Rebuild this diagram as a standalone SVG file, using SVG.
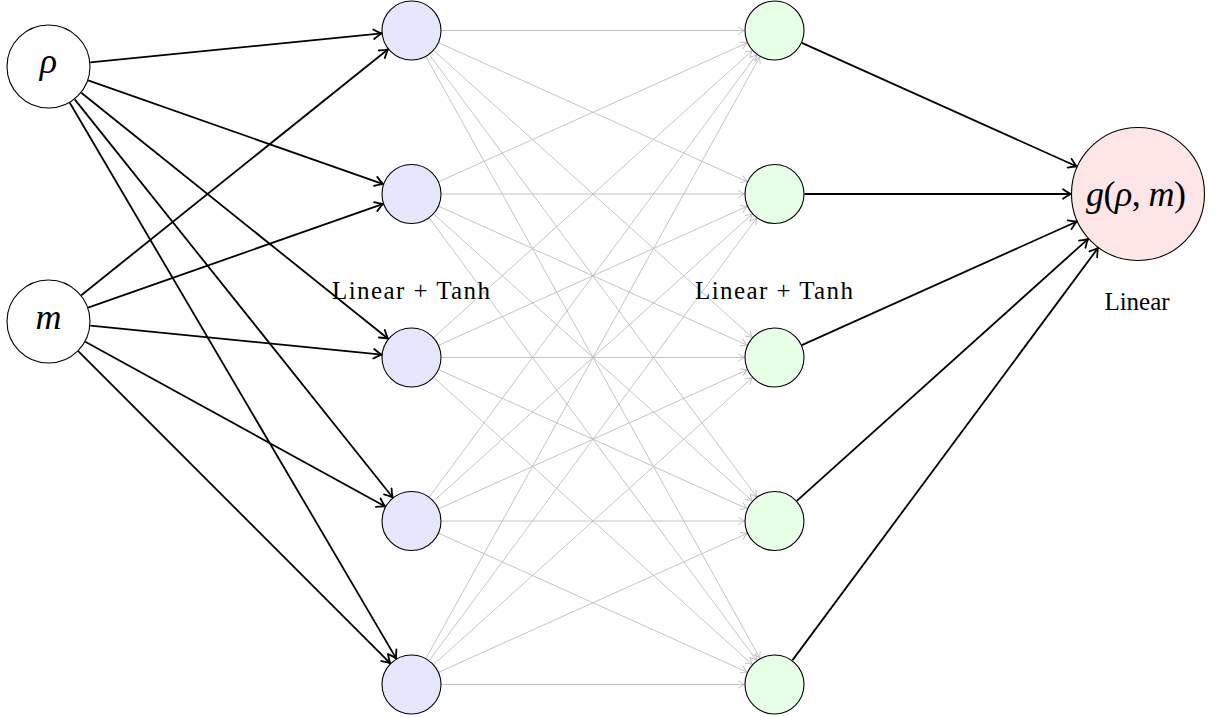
<svg xmlns="http://www.w3.org/2000/svg" width="1216" height="717" viewBox="0 0 1216 717">
<style>
.node{stroke:#000;stroke-width:1.1}
.in{fill:#fff}
.h1{fill:#e6e6ff}
.h2{fill:#e6ffe6}
.out{fill:#ffe6e6}
.blk{stroke:#000;stroke-width:1.8;fill:none;marker-end:url(#ab)}
.gry{stroke:#bdbdbd;stroke-width:0.9;fill:none;marker-end:url(#ag)}
.lbl{font-family:"Liberation Serif","DejaVu Serif",serif;font-size:25px;fill:#000;text-anchor:middle}
.math{font-family:"Liberation Serif","DejaVu Serif",serif;font-style:italic;fill:#000;text-anchor:middle}
.up{font-style:normal}
</style>
<defs>
<marker id="ab" markerUnits="userSpaceOnUse" markerWidth="20" markerHeight="20" refX="0" refY="0" orient="auto" overflow="visible">
<path d="M-8,-4.8 Q-3,-1.2 0,0 Q-3,1.2 -8,4.8" fill="none" stroke="#000" stroke-width="1.8" stroke-linecap="round"/>
</marker>
<marker id="ag" markerUnits="userSpaceOnUse" markerWidth="20" markerHeight="20" refX="0" refY="0" orient="auto" overflow="visible">
<path d="M-6,-3.6 Q-2.2,-0.9 0,0 Q-2.2,0.9 -6,3.6" fill="none" stroke="#bdbdbd" stroke-width="0.9" stroke-linecap="round"/>
</marker>
</defs>
<g id="connectors">
<path class="gry" d="M441.5,30.5L744.5,30.5"/>
<path class="gry" d="M438.85,42.82L747.15,181.68"/>
<path class="gry" d="M433.79,50.58L752.21,337.42"/>
<path class="gry" d="M429.35,54.61L756.65,496.89"/>
<path class="gry" d="M426.06,56.73L759.94,658.27"/>
<path class="gry" d="M438.85,181.68L747.15,42.82"/>
<path class="gry" d="M441.5,194L744.5,194"/>
<path class="gry" d="M438.85,206.32L747.15,345.18"/>
<path class="gry" d="M433.79,214.08L752.21,500.92"/>
<path class="gry" d="M429.35,218.11L756.65,660.39"/>
<path class="gry" d="M433.79,337.42L752.21,50.58"/>
<path class="gry" d="M438.85,345.18L747.15,206.32"/>
<path class="gry" d="M441.5,357.5L744.5,357.5"/>
<path class="gry" d="M438.85,369.82L747.15,508.68"/>
<path class="gry" d="M433.79,377.58L752.21,664.42"/>
<path class="gry" d="M429.35,496.89L756.65,54.61"/>
<path class="gry" d="M433.79,500.92L752.21,214.08"/>
<path class="gry" d="M438.85,508.68L747.15,369.82"/>
<path class="gry" d="M441.5,521L744.5,521"/>
<path class="gry" d="M438.85,533.32L747.15,672.18"/>
<path class="gry" d="M426.06,658.27L759.94,56.73"/>
<path class="gry" d="M429.35,660.39L756.65,218.11"/>
<path class="gry" d="M433.79,664.42L752.21,377.58"/>
<path class="gry" d="M438.85,672.18L747.15,533.32"/>
<path class="gry" d="M441.5,684.5L744.5,684.5"/>
<path class="blk" d="M90.3,62.36L381.65,33.46"/>
<path class="blk" d="M88.13,80.42L383.2,184.06"/>
<path class="blk" d="M81.27,92.77L388.09,338.74"/>
<path class="blk" d="M74.71,99.32L392.78,497.56"/>
<path class="blk" d="M69.77,102.71L396.31,658.63"/>
<path class="blk" d="M81.27,295.23L388.09,49.26"/>
<path class="blk" d="M88.13,307.58L383.2,203.94"/>
<path class="blk" d="M90.3,325.64L381.65,354.54"/>
<path class="blk" d="M85.31,341.73L385.21,506.55"/>
<path class="blk" d="M78.2,351.2L390.29,663.29"/>
<path class="blk" d="M801.86,42.81L1076.9,166.52"/>
<path class="blk" d="M804.5,194L1071,194"/>
<path class="blk" d="M801.86,345.19L1076.9,221.48"/>
<path class="blk" d="M796.8,500.94L1088.19,238.81"/>
<path class="blk" d="M792.36,660.4L1098.11,247.83"/>
</g>
<g id="in-rho"><circle class="node in" cx="48.5" cy="66.5" r="41.5"/><text class="math" x="48.5" y="73" font-size="36">ρ</text></g>
<g id="in-m"><circle class="node in" cx="48.5" cy="321.5" r="41.5"/><text class="math" x="48.5" y="329" font-size="36">m</text></g>
<g id="h1-1"><circle class="node h1" cx="411.5" cy="30.5" r="29.5"/></g>
<g id="h1-2"><circle class="node h1" cx="411.5" cy="194" r="29.5"/></g>
<g id="h1-3"><circle class="node h1" cx="411.5" cy="357.5" r="29.5"/></g>
<g id="h1-4"><circle class="node h1" cx="411.5" cy="521" r="29.5"/></g>
<g id="h1-5"><circle class="node h1" cx="411.5" cy="684.5" r="29.5"/></g>
<g id="h2-1"><circle class="node h2" cx="774.5" cy="30.5" r="29.5"/></g>
<g id="h2-2"><circle class="node h2" cx="774.5" cy="194" r="29.5"/></g>
<g id="h2-3"><circle class="node h2" cx="774.5" cy="357.5" r="29.5"/></g>
<g id="h2-4"><circle class="node h2" cx="774.5" cy="521" r="29.5"/></g>
<g id="h2-5"><circle class="node h2" cx="774.5" cy="684.5" r="29.5"/></g>
<g id="output"><circle class="node out" cx="1138" cy="194" r="66.5"/><text class="math" x="1136" y="206" font-size="36" textLength="100" lengthAdjust="spacing">g<tspan class="up">(</tspan>ρ<tspan class="up">, </tspan>m<tspan class="up">)</tspan></text></g>
<g id="labels">
<text class="lbl" x="411" y="299" textLength="158" lengthAdjust="spacing">Linear + Tanh</text>
<text class="lbl" x="774" y="299" textLength="158" lengthAdjust="spacing">Linear + Tanh</text>
<text class="lbl" x="1137" y="310">Linear</text>
</g>
</svg>
